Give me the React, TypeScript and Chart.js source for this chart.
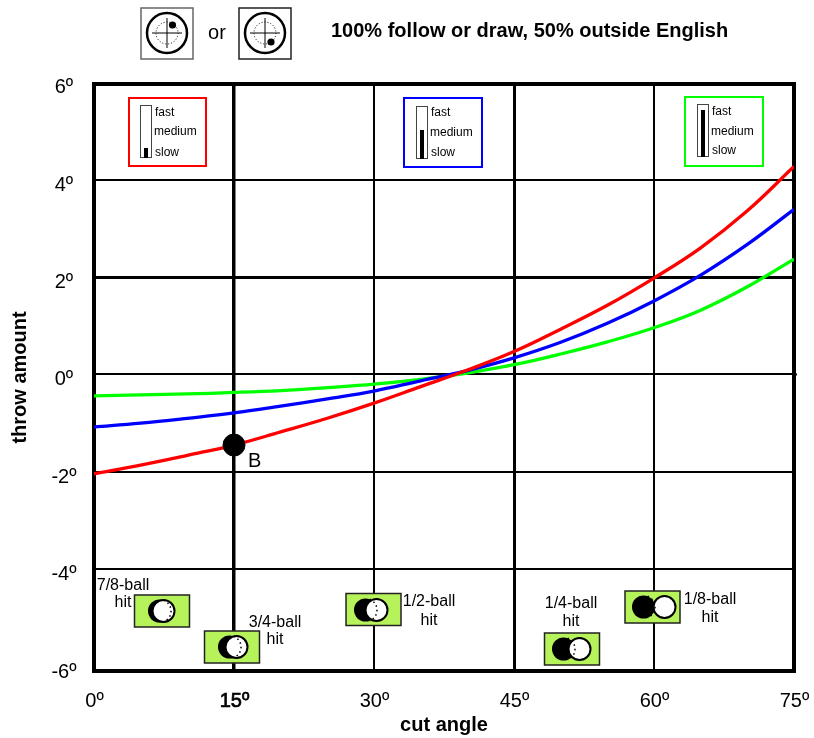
import React, { useEffect, useRef } from "react";
import { Chart, registerables } from "chart.js";

Chart.register(...registerables);

const FONT = "'Liberation Sans', Arial, sans-serif";
const angles = [0, 5, 10, 15, 20, 25, 30, 35, 40, 45, 50, 55, 60, 65, 70, 75];
const slowThrow = [-2.04, -1.86, -1.66, -1.45, -1.18, -0.9, -0.59, -0.25, 0.09, 0.47, 0.93, 1.42, 1.98, 2.6, 3.36, 4.27];
const mediumThrow = [-1.08, -1.0, -0.9, -0.79, -0.65, -0.5, -0.34, -0.13, 0.08, 0.34, 0.66, 1.05, 1.51, 2.04, 2.67, 3.39];
const fastThrow = [-0.44, -0.42, -0.4, -0.37, -0.33, -0.27, -0.2, -0.1, 0.03, 0.2, 0.42, 0.67, 0.96, 1.32, 1.8, 2.37];
const pointB = [{ x: 15, y: -1.45 }];
const xTicks = [0, 15, 30, 45, 60, 75];
const yTicks = [-6, -4, -2, 0, 2, 4, 6];
const titleText = "100% follow or draw, 50% outside English";

const xGridWidths: Record<number, number> = { 0: 0, 15: 3.5, 30: 2, 45: 3, 60: 2, 75: 0 };
const yGridWidths: Record<number, number> = { 6: 0, 4: 2, 2: 3, 0: 2, "-2": 2, "-4": 2, "-6": 0 };

function text(ctx: CanvasRenderingContext2D, s: string, x: number, y: number, font: string, align: CanvasTextAlign = "left") {
  ctx.font = font;
  ctx.fillStyle = "#000";
  ctx.textAlign = align;
  ctx.textBaseline = "middle";
  ctx.fillText(s, x, y + 1);
}

function aim(ctx: CanvasRenderingContext2D, bx: number, border: string, dotX: number, dotY: number) {
  ctx.strokeStyle = border;
  ctx.lineWidth = 1.5;
  ctx.strokeRect(bx, 8, 52, 51);
  const cx = bx + 26;
  const cy = 33;
  ctx.strokeStyle = "#000";
  ctx.lineWidth = 2.5;
  ctx.beginPath();
  ctx.arc(cx, cy, 20, 0, Math.PI * 2);
  ctx.stroke();
  ctx.lineWidth = 1;
  ctx.beginPath();
  ctx.moveTo(cx - 15, cy);
  ctx.lineTo(cx + 15, cy);
  ctx.moveTo(cx, cy - 15);
  ctx.lineTo(cx, cy + 15);
  ctx.stroke();
  ctx.setLineDash([1, 2]);
  ctx.beginPath();
  ctx.arc(cx, cy, 11, 0, Math.PI * 2);
  ctx.stroke();
  ctx.setLineDash([]);
  ctx.fillStyle = "#000";
  ctx.beginPath();
  ctx.arc(dotX, dotY, 3.6, 0, Math.PI * 2);
  ctx.fill();
}

function speedBox(ctx: CanvasRenderingContext2D, x: number, y: number, w: number, h: number, color: string, barX: number, barTop: number, fillTop: number, ys: number[]) {
  ctx.strokeStyle = color;
  ctx.lineWidth = 2;
  ctx.strokeRect(x, y, w, h);
  ctx.strokeStyle = "#444";
  ctx.lineWidth = 1;
  ctx.strokeRect(barX + 0.5, barTop + 0.5, 11, 52);
  ctx.fillStyle = "#000";
  ctx.fillRect(barX + 4, fillTop, 4, barTop + 53 - fillTop);
  const f = `12px ${FONT}`;
  text(ctx, "fast", barX + 15, ys[0], f);
  text(ctx, "medium", barX + 14, ys[1], f);
  text(ctx, "slow", barX + 15, ys[2], f);
}

function hitIcon(ctx: CanvasRenderingContext2D, x: number, y: number, blackX: number, whiteX: number, cy: number) {
  ctx.fillStyle = "#b6f25a";
  ctx.fillRect(x, y, 55, 32);
  ctx.strokeStyle = "#222";
  ctx.lineWidth = 1.5;
  ctx.strokeRect(x, y, 55, 32);
  ctx.fillStyle = "#000";
  ctx.beginPath();
  ctx.arc(blackX, cy, 11.5, 0, Math.PI * 2);
  ctx.fill();
  ctx.fillStyle = "#fff";
  ctx.strokeStyle = "#000";
  ctx.lineWidth = 2;
  ctx.beginPath();
  ctx.arc(whiteX, cy, 11, 0, Math.PI * 2);
  ctx.fill();
  ctx.stroke();
  ctx.setLineDash([1.5, 3]);
  ctx.lineWidth = 1.5;
  ctx.beginPath();
  ctx.arc(blackX, cy, 11.5, -1.2, 1.2);
  ctx.stroke();
  ctx.setLineDash([]);
}

const decorations = {
  id: "decorations",
  beforeDatasetsDraw(chart: any) {
    const ctx: CanvasRenderingContext2D = chart.ctx;
    const a = chart.chartArea;
    ctx.save();
    ctx.strokeStyle = "#000";
    ctx.lineWidth = 4;
    ctx.strokeRect(a.left, a.top, a.right - a.left, a.bottom - a.top);
    const zero = chart.scales.y.getPixelForValue(0);
    ctx.lineWidth = 2;
    ctx.beginPath();
    ctx.moveTo(a.right, zero);
    ctx.lineTo(a.right + 3, zero);
    ctx.stroke();
    ctx.restore();
  },
  afterDatasetsDraw(chart: any) {
    const ctx: CanvasRenderingContext2D = chart.ctx;
    ctx.save();
    aim(ctx, 141, "#666", 172.5, 25);
    aim(ctx, 239, "#222", 271, 42);
    text(ctx, "or", 217, 32, `20px ${FONT}`, "center");
    text(ctx, titleText, 331, 30, `bold 20px ${FONT}`);

    speedBox(ctx, 129, 98, 77, 68, "#ff0000", 140, 105, 148, [112, 131, 152]);
    speedBox(ctx, 404, 98, 78, 69, "#0000ff", 416, 106, 130, [112, 132, 152]);
    speedBox(ctx, 685, 97, 78, 69, "#00ff00", 697, 104, 110, [111, 131, 150]);

    const bx = chart.scales.x.getPixelForValue(pointB[0].x);
    const by = chart.scales.y.getPixelForValue(pointB[0].y);
    text(ctx, "B", bx + 14, by + 15, `20px ${FONT}`);

    hitIcon(ctx, 134.5, 595, 159.5, 163.5, 611);
    hitIcon(ctx, 204.5, 631, 229.5, 236.5, 647);
    hitIcon(ctx, 346, 593.5, 365.5, 376.5, 610);
    hitIcon(ctx, 544.5, 633, 563.5, 579.5, 649);
    hitIcon(ctx, 625, 591, 643.5, 664.5, 607);

    const f = `16px ${FONT}`;
    text(ctx, "7/8-ball", 123, 585, f, "center");
    text(ctx, "hit", 123, 602, f, "center");
    text(ctx, "3/4-ball", 275, 622, f, "center");
    text(ctx, "hit", 275, 639, f, "center");
    text(ctx, "1/2-ball", 429, 601, f, "center");
    text(ctx, "hit", 429, 620, f, "center");
    text(ctx, "1/4-ball", 571, 603, f, "center");
    text(ctx, "hit", 571, 621, f, "center");
    text(ctx, "1/8-ball", 710, 599, f, "center");
    text(ctx, "hit", 710, 617, f, "center");
    ctx.restore();
  },
};

export default function App() {
  const ref = useRef<HTMLCanvasElement>(null);
  useEffect(() => {
    const line = (label: string, values: number[], color: string) => ({
      type: "line" as const,
      label,
      data: angles.map((a, i) => ({ x: a, y: values[i] })),
      borderColor: color,
      backgroundColor: color,
      borderWidth: 3.3,
      pointRadius: 0,
      tension: 0.4,
    });
    const chart = new Chart(ref.current!, {
      type: "line",
      data: {
        datasets: [
          { type: "scatter" as const, label: "B", data: pointB, pointRadius: 11, backgroundColor: "#000", borderColor: "#000", order: 0 } as any,
          { ...line("slow", slowThrow, "#ff0000"), order: 1 },
          { ...line("medium", mediumThrow, "#0000ff"), order: 2 },
          { ...line("fast", fastThrow, "#00ff00"), order: 3 },
        ],
      },
      options: {
        animation: false,
        responsive: false,
        layout: { padding: { top: 84, right: 20, left: 0, bottom: 0 } },
        plugins: { legend: { display: false }, tooltip: { enabled: false } },
        scales: {
          x: {
            type: "linear",
            min: 0,
            max: 75,
            afterBuildTicks: (s: any) => { s.ticks = xTicks.map((value) => ({ value })); },
            afterFit: (s: any) => { s.height = 67; s.paddingRight = 0; s.paddingLeft = 0; },
            border: { display: false },
            grid: {
              color: "#000",
              drawTicks: false,
              lineWidth: (c: any) => xGridWidths[c.tick?.value] ?? 2,
            },
            ticks: {
              color: "#000",
              padding: 18,
              labelOffset: 0.5,
              maxRotation: 0,
              autoSkip: false,
              font: { family: FONT, size: 20 },
              textStrokeColor: "#000",
              textStrokeWidth: (c: any) => (c.tick?.value === 15 ? 0.7 : 0),
              callback: (v: any) => `${v}º`,
            },
            title: {
              display: true,
              text: "cut angle",
              color: "#000",
              font: { family: FONT, size: 20, weight: "bold" },
              padding: { top: 2, bottom: 1 },
            },
          },
          y: {
            type: "linear",
            min: -6.09,
            max: 5.965,
            afterBuildTicks: (s: any) => { s.ticks = yTicks.map((value) => ({ value })); },
            afterFit: (s: any) => { s.width = 94; },
            border: { display: false },
            grid: {
              color: "#000",
              drawTicks: false,
              lineWidth: (c: any) => yGridWidths[c.tick?.value] ?? 2,
            },
            ticks: {
              color: "#000",
              padding: 17.5,
              labelOffset: 5.5,
              crossAlign: "center",
              autoSkip: false,
              font: { family: FONT, size: 20 },
              callback: (v: any) => `${v}º`,
            },
            title: {
              display: true,
              text: "throw amount",
              color: "#000",
              font: { family: FONT, size: 20, weight: "bold" },
              padding: { top: 8, bottom: 0 },
            },
          },
        },
      },
      plugins: [decorations],
    } as any);
    return () => chart.destroy();
  }, []);
  return <canvas ref={ref} width={814} height={738} style={{ position: "fixed", left: 0, top: 0, display: "block" }} />;
}
